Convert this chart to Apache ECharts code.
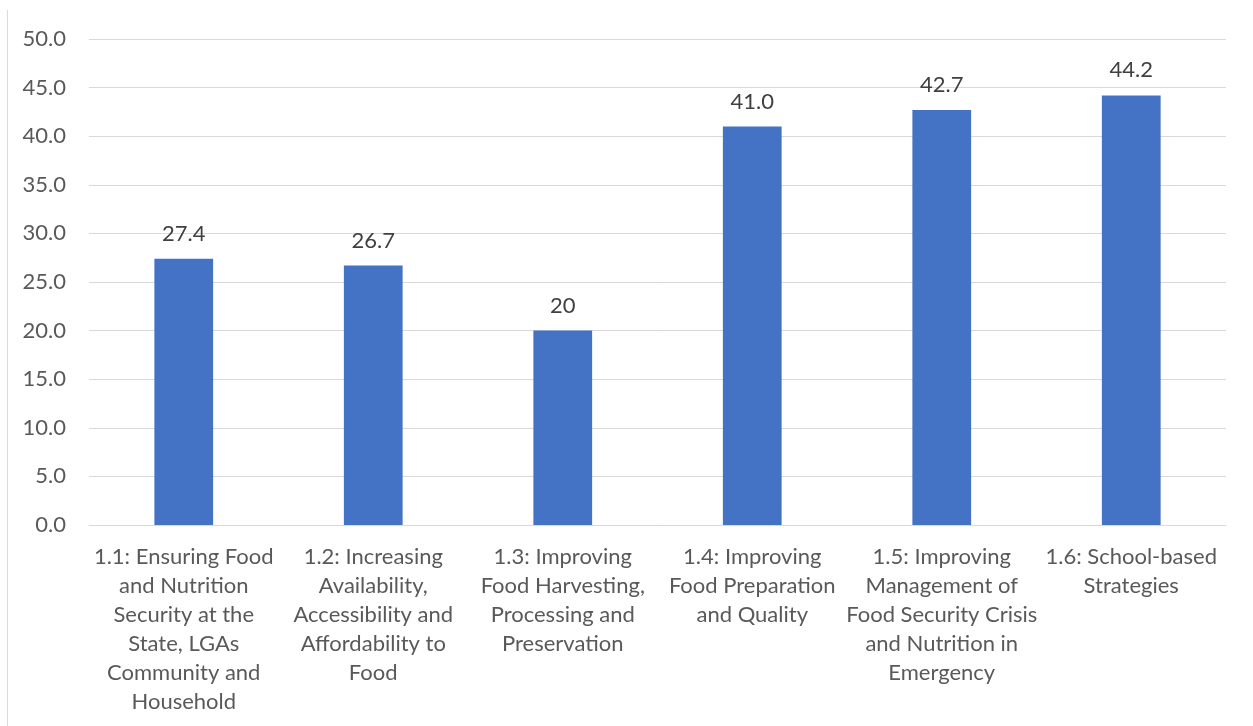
<!DOCTYPE html>
<html>
<head>
<meta charset="utf-8">
<script src="https://cdn.jsdelivr.net/npm/echarts@6/dist/echarts.min.js"></script>
<style>
  html, body { margin: 0; padding: 0; background: #fff; }
  #chart { width: 1253px; height: 726px; }
</style>
</head>
<body>
<div id="chart"></div>
<script>
// Strategy categories (line breaks as laid out under each bar)
const categories = [
  '1.1: Ensuring Food\nand Nutrition\nSecurity at the\nState, LGAs\nCommunity and\nHousehold',
  '1.2: Increasing\nAvailability,\nAccessibility and\nAffordability to\nFood',
  '1.3: Improving\nFood Harvesting,\nProcessing and\nPreservation',
  '1.4: Improving\nFood Preparation\nand Quality',
  '1.5: Improving\nManagement of\nFood Security Crisis\nand Nutrition in\nEmergency',
  '1.6: School-based\nStrategies'
];
// Score per strategy
const values = [27.4, 26.7, 20, 41.0, 42.7, 44.2];
// Text shown above each bar
const valueLabels = ['27.4', '26.7', '20', '41.0', '42.7', '44.2'];

const FONT = 'Lato, "Open Sans", sans-serif';
const TEXT = '#595959';

const chart = echarts.init(document.getElementById('chart'));
chart.setOption({
  animation: false,
  grid: { left: 89, right: 27, top: 39, bottom: 201, containLabel: false },
  xAxis: {
    type: 'category',
    data: categories,
    axisLine: { lineStyle: { color: '#d9d9d9', width: 1 } },
    axisTick: { show: false },
    axisLabel: {
      interval: 0,
      margin: 17,
      color: TEXT,
      fontFamily: FONT,
      fontSize: 22,
      lineHeight: 29,
      align: 'center'
    }
  },
  yAxis: {
    type: 'value',
    min: 0,
    max: 50,
    interval: 5,
    axisLine: { show: false },
    axisTick: { show: false },
    splitLine: { lineStyle: { color: '#d9d9d9', width: 1 } },
    axisLabel: {
      margin: 23,
      color: TEXT,
      fontFamily: FONT,
      fontSize: 22,
      formatter: v => v.toFixed(1)
    }
  },
  series: [{
    type: 'bar',
    data: values,
    barWidth: '31%',
    itemStyle: { color: '#4472C4' },
    label: {
      show: true,
      position: 'top',
      distance: 14,
      color: '#404040',
      fontFamily: FONT,
      fontSize: 22,
      formatter: p => valueLabels[p.dataIndex]
    }
  }],
  graphic: [{
    type: 'line',
    shape: { x1: 7.5, y1: 10, x2: 7.5, y2: 726 },
    style: { stroke: '#d9d9d9', lineWidth: 1 }
  }]
});
</script>
</body>
</html>
